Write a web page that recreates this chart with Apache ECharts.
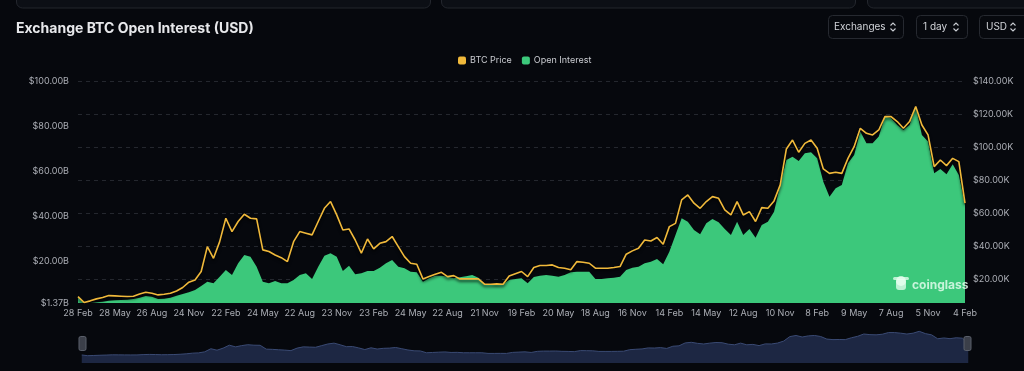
<!DOCTYPE html>
<html>
<head>
<meta charset="utf-8">
<script src="https://cdn.jsdelivr.net/npm/echarts@6/dist/echarts.min.js"></script>
<style>
html,body{margin:0;padding:0;background:#06080d;}
#c{width:1024px;height:371px;}
</style>
</head>
<body>
<div id="c"></div>
<script>
// x-axis tick labels (one every 6 samples, ~15 days per sample)
const tickLabels = ['28 Feb','28 May','26 Aug','24 Nov','22 Feb','24 May','22 Aug','23 Nov','23 Feb','24 May','22 Aug','21 Nov','19 Feb','20 May','18 Aug','16 Nov','14 Feb','14 May','12 Aug','10 Nov','8 Feb','9 May','7 Aug','5 Nov','4 Feb'];
const stepsPerTick = 6;
const categories = [];
tickLabels.forEach((t, k) => {
  const n = k === tickLabels.length - 1 ? 1 : stepsPerTick;
  for (let s = 0; s < n; s++) categories.push(s === 0 ? t : t + ' +' + (s * 15) + 'd');
});

// BTC price, thousands USD (right axis)
const btcPriceK = [
  9.3, 5.7, 6.7, 7.9, 8.7, 9.9, 9.7, 9.5, 9.3, 9.5,
  10.9, 11.9, 11.3, 10.3, 10.7, 11.3, 12.7, 14.8, 18.0, 19.4,
  24.5, 39.6, 32.5, 42.6, 56.8, 48.7, 54.8, 59.2, 56.8, 56.4,
  37.6, 36.6, 34.5, 32.9, 30.5, 42.6, 48.7, 47.7, 46.7, 54.8,
  62.8, 66.9, 58.8, 49.7, 50.3, 43.6, 35.6, 44.2, 38.2,
  41.6, 42.6, 45.7, 39.6, 33.5, 29.5, 28.9, 20.0, 21.4, 22.8,
  24.0, 21.4, 22.0, 20.0, 20.0, 20.0, 20.0, 16.8, 16.8, 17.0,
  16.8, 21.8, 23.2, 24.5, 21.4, 26.9, 28.1, 28.1, 28.5, 26.9,
  26.5, 25.5, 30.5, 30.1, 29.5, 26.5, 26.5, 26.5, 26.9, 27.5,
  35.0, 37.0, 38.6, 43.6, 43.0, 45.1, 41.0, 51.7,
  53.7, 67.9, 70.9, 65.9, 62.8, 66.9, 69.9, 68.9, 61.8, 58.8,
  66.9, 58.8, 60.8, 54.8, 63.2, 62.8, 67.3, 77.0, 98.8, 104.2,
  96.8, 102.2, 104.2, 99.2, 86.7, 84.0, 84.7, 84.0, 93.1, 100.2,
  111.3, 108.3, 107.3, 110.3, 118.4, 118.4, 115.4, 111.3, 115.4, 124.5,
  113.3, 107.3, 88.1, 92.1, 88.7, 93.1, 91.1, 65.9
];

// Open interest, billions USD (left axis)
const openInterestB = [
  3.74, 1.40, 1.37, 1.66, 1.96, 2.40, 2.55, 2.70, 2.85, 3.14,
  3.74, 4.48, 4.18, 3.14, 3.29, 3.74, 4.63, 5.37, 6.11, 7.14,
  8.92, 10.85, 10.11, 13.07, 16.03, 13.81, 19.00, 22.70, 21.96, 17.51,
  10.85, 10.11, 11.14, 10.11, 10.11, 11.59, 13.81, 14.55, 12.03, 17.51,
  22.40, 23.44, 21.96, 15.59, 17.96, 14.11, 14.55, 15.59, 15.59,
  17.07, 19.00, 20.48, 17.51, 16.77, 15.29, 15.00, 10.85, 12.33, 13.51,
  13.51, 13.07, 12.33, 12.77, 13.22, 13.81, 12.63, 9.66, 9.37, 9.51,
  9.66, 11.59, 12.03, 12.33, 10.11, 12.92, 13.51, 13.81, 13.51, 13.07,
  13.81, 15.00, 15.29, 15.29, 15.29, 12.03, 12.03, 12.33, 12.63, 13.07,
  16.03, 17.07, 17.51, 19.00, 19.74, 20.92, 18.55, 24.18,
  31.59, 39.00, 37.51, 33.81, 31.89, 36.77, 38.70, 37.22, 34.26, 31.59,
  37.51, 31.59, 34.26, 30.40, 36.03, 37.51, 41.96, 53.81, 64.92, 66.40,
  64.48, 67.89, 68.33, 65.66, 55.29, 48.63, 52.33, 53.81, 63.44, 67.14,
  77.51, 72.33, 72.33, 75.29, 84.18, 83.44, 80.48, 78.26, 80.48, 88.63,
  76.03, 73.07, 59.00, 60.92, 58.55, 63.00, 58.26, 44.92
];

const leftTicksB = [1.37, 20, 40, 60, 80, 100];
const rightTicksK = [20, 40, 60, 80, 100, 120, 140];

const labelColor = '#abaeb5';
const FONT = 'Inter, Roboto, "Noto Sans", sans-serif';

function chevrons(cx, cy) {
  const st = {stroke:'#c9ccd2', lineWidth:1.1, fill:null};
  return [
    {type:'polyline', shape:{points:[[cx-2.5,cy-1.5],[cx,cy-4],[cx+2.5,cy-1.5]]}, style:st, silent:true},
    {type:'polyline', shape:{points:[[cx-2.5,cy+1.5],[cx,cy+4],[cx+2.5,cy+1.5]]}, style:st, silent:true}
  ];
}
function box(x, w) {
  return {type:'rect', shape:{x:x+0.5, y:15.5, width:w, height:23, r:4}, style:{fill:'#07090e', stroke:'#262930', lineWidth:1}, silent:true};
}
const wm = 'rgba(235,255,242,0.75)';

const chart = echarts.init(document.getElementById('c'), null, {renderer:'canvas'});
chart.setOption({
  backgroundColor:'#06080d',
  animation:false,
  textStyle:{fontFamily:FONT},
  title:{text:'Exchange BTC Open Interest (USD)', left:11, top:17,
    textStyle:{color:'#e7e8eb', fontSize:14, fontWeight:'bold', fontFamily:FONT}},
  legend:{left:453, top:51, itemWidth:8, itemHeight:8, itemGap:10, icon:'roundRect',
    textStyle:{color:'#c9cbd0', fontSize:9, fontFamily:FONT, padding:[0,0,0,-1]},
    data:['BTC Price','Open Interest']},
  grid:{left:78, right:59, top:81, bottom:68},
  xAxis:{type:'category', data:categories, boundaryGap:false,
    axisLine:{show:false}, axisTick:{show:false}, splitLine:{show:false},
    axisLabel:{interval:stepsPerTick-1, color:labelColor, fontSize:9, margin:6, fontFamily:FONT,
      formatter:(v, i) => tickLabels[Math.round(i/stepsPerTick)]}},
  yAxis:[
    {type:'value', position:'left', min:1.37, max:100,
      axisLine:{show:false}, axisTick:{show:false, customValues:leftTicksB},
      splitLine:{show:false},
      axisLabel:{customValues:leftTicksB, color:labelColor, fontSize:9, margin:9, fontFamily:FONT,
        formatter:v => '$' + v.toFixed(2) + 'B'}},
    {type:'value', position:'right', min:5.4, max:140,
      axisLine:{show:false}, axisTick:{show:false, customValues:rightTicksK},
      splitLine:{show:true, customValues:rightTicksK, lineStyle:{color:'#24272e', type:[4,4], width:1}},
      axisLabel:{customValues:rightTicksK, color:labelColor, fontSize:9, margin:8, fontFamily:FONT,
        formatter:v => '$' + v.toFixed(2) + 'K'}}
  ],
  dataZoom:[{type:'slider', xAxisIndex:0, start:0, end:100, left:79, right:58, top:324, height:39,
    backgroundColor:'rgba(0,0,0,0)', borderColor:'rgba(0,0,0,0)', fillerColor:'rgba(0,0,0,0)',
    dataBackground:{lineStyle:{color:'#3a4a73', width:1, opacity:1}, areaStyle:{color:'#1d2743', opacity:1}},
    selectedDataBackground:{lineStyle:{color:'#3a4a73', width:1, opacity:1}, areaStyle:{color:'#1d2743', opacity:1}},
    handleIcon:'path://M2,0h4a2,2,0,0,1,2,2v12a2,2,0,0,1-2,2h-4a2,2,0,0,1-2-2v-12a2,2,0,0,1,2-2Z',
    handleSize:'36%', handleStyle:{color:'#3b3f49', borderColor:'#5b606b', borderWidth:1},
    moveHandleSize:0, showDetail:false, brushSelect:false, showDataShadow:true,
    emphasis:{handleStyle:{color:'#3b3f49'}}}],
  series:[
    {name:'BTC Price', type:'line', yAxisIndex:1, data:btcPriceK, symbol:'none', showSymbol:false, z:4,
      itemStyle:{color:'#F0B93B'},
      lineStyle:{color:'#F0B93B', width:1.6, shadowColor:'rgba(0,0,0,0.85)', shadowBlur:3, shadowOffsetY:2}},
    {name:'Open Interest', type:'line', yAxisIndex:0, data:openInterestB, symbol:'none', showSymbol:false, z:2,
      itemStyle:{color:'#3CC87B'}, lineStyle:{width:0, color:'#3CC87B'},
      areaStyle:{color:'#3CC87B', opacity:1}}
  ],
  graphic:[
    {type:'rect', shape:{x:16.5, y:-10, width:414, height:18, r:6}, style:{fill:'#0c0f15', stroke:'#23262d'}, silent:true},
    {type:'rect', shape:{x:441.5, y:-10, width:414, height:18, r:6}, style:{fill:'#0c0f15', stroke:'#23262d'}, silent:true},
    {type:'rect', shape:{x:867.5, y:-10, width:170, height:18, r:6}, style:{fill:'#0c0f15', stroke:'#23262d'}, silent:true},
    box(828, 75),
    {type:'text', x:834, y:27, style:{text:'Exchanges', fill:'#d2d4d9', font:'10px ' + FONT, textVerticalAlign:'middle'}, silent:true},
    ...chevrons(893, 27),
    box(916, 51),
    {type:'text', x:923, y:27, style:{text:'1 day', fill:'#d2d4d9', font:'10px ' + FONT, textVerticalAlign:'middle'}, silent:true},
    ...chevrons(956, 27),
    box(979, 60),
    {type:'text', x:986, y:27, style:{text:'USD', fill:'#d2d4d9', font:'10px ' + FONT, textVerticalAlign:'middle'}, silent:true},
    ...chevrons(1013, 27),
    {type:'circle', z:100, silent:true, shape:{cx:901, cy:281, r:5}, style:{fill:wm}},
    {type:'rect', z:100, silent:true, shape:{x:896, y:279, width:10, height:11, r:3}, style:{fill:wm}},
    {type:'rect', z:100, silent:true, shape:{x:893, y:277, width:16, height:3, r:1.5}, style:{fill:wm}},
    {type:'text', z:100, silent:true, x:912, y:285, style:{text:'coinglass', fill:'rgba(235,255,242,0.8)', font:'bold 12px ' + FONT, textVerticalAlign:'middle'}}
  ]
});
</script>
</body>
</html>
